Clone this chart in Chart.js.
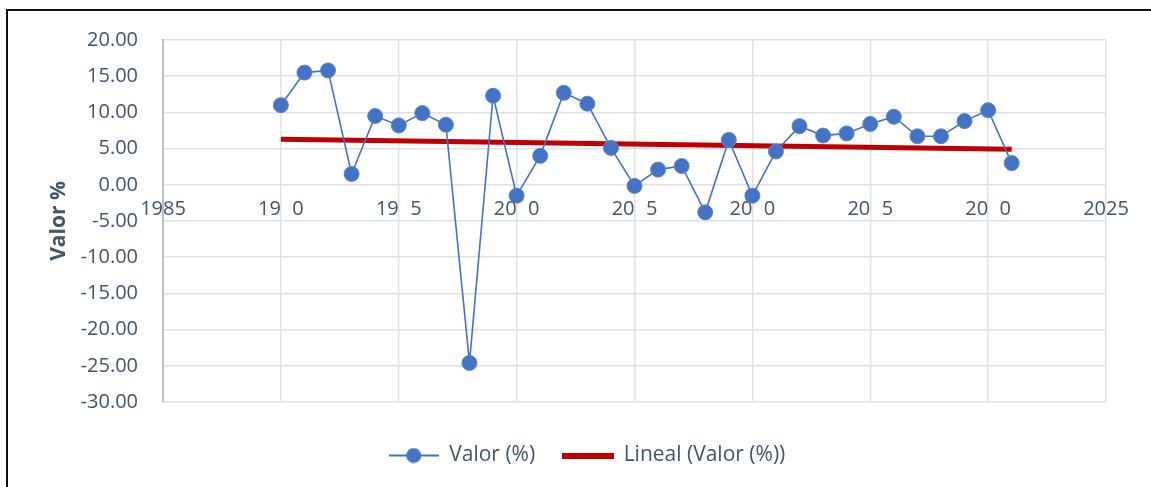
<!DOCTYPE html>
<html lang="es">
<head>
  <meta charset="UTF-8" />
  <title>Valor %</title>
  <style>
    * {
      margin: 0;
      padding: 0;
      box-sizing: border-box;
    }

    body {
      background: white;
      width: 1151px;
      height: 487px;
      overflow: hidden;
      position: relative;
    }

    .marco {
      position: absolute;
      left: 6px;
      top: 9px;
      width: 1400px;
      height: 800px;
      border-left: 2px solid #111;
      border-top: 2px solid #111;
      pointer-events: none;
    }

    canvas {
      position: absolute;
      left: 0;
      top: 0;
    }
  </style>
</head>
<body>
  <canvas id="grafico" width="1151" height="487"></canvas>
  <div class="marco"></div>

  <script src="https://cdn.jsdelivr.net/npm/chart.js"></script>
  <script>
    // datos
    const anios = [1990, 1991, 1992, 1993, 1994, 1995, 1996, 1997, 1998, 1999,
                   2000, 2001, 2002, 2003, 2004, 2005, 2006, 2007, 2008, 2009,
                   2010, 2011, 2012, 2013, 2014, 2015, 2016, 2017, 2018, 2019,
                   2020, 2021];
    const valores = [11.0, 15.5, 15.8, 1.5, 9.5, 8.2, 9.9, 8.3, -24.6, 12.3,
                     -1.5, 4.0, 12.7, 11.2, 5.1, -0.15, 2.1, 2.6, -3.8, 6.2,
                     -1.5, 4.6, 8.1, 6.8, 7.1, 8.4, 9.4, 6.7, 6.7, 8.8,
                     10.3, 3.0];
    // linea de tendencia (extremos)
    const aniosTendencia = [1990, 2021];
    const valoresTendencia = [6.3, 4.9];
    // etiquetas del eje x tal como aparecen
    const etiquetasX = ['1985', '19\u20070', '19\u20075', '20\u20070', '20\u20075',
                        '20\u20070', '20\u20075', '20\u20070', '2025'];

    const AZUL = '#4472c4';
    const ROJO = '#c00000';
    const TEXTO = '#44546a';
    const REJILLA = '#dde1e8';
    const fuente = "'Open Sans', 'Liberation Sans', sans-serif";

    // simbolos de la leyenda
    function simboloValor() {
      const c = document.createElement('canvas');
      c.width = 50; c.height = 16;
      const g = c.getContext('2d');
      g.strokeStyle = AZUL;
      g.lineWidth = 2;
      g.beginPath(); g.moveTo(0, 8); g.lineTo(50, 8); g.stroke();
      g.fillStyle = AZUL;
      g.beginPath(); g.arc(25, 8, 7.5, 0, Math.PI * 2); g.fill();
      return c;
    }

    function simboloTendencia() {
      const c = document.createElement('canvas');
      c.width = 52; c.height = 6;
      const g = c.getContext('2d');
      g.fillStyle = ROJO;
      g.fillRect(0, 0, 52, 6);
      return c;
    }

    const iconos = [simboloValor(), simboloTendencia()];

    const ctx = document.getElementById('grafico').getContext('2d');
    new Chart(ctx, {
      type: 'line',
      data: {
        datasets: [{
          label: 'Valor (%)',
          data: anios.map((a, i) => ({ x: a, y: valores[i] })),
          borderColor: AZUL,
          backgroundColor: AZUL,
          borderWidth: 1.6,
          pointRadius: 7.5,
          pointBorderColor: '#5a86d0',
          pointBorderWidth: 1,
          pointBackgroundColor: AZUL,
          tension: 0
        }, {
          label: 'Lineal (Valor (%))',
          data: aniosTendencia.map((a, i) => ({ x: a, y: valoresTendencia[i] })),
          borderColor: ROJO,
          backgroundColor: ROJO,
          borderWidth: 5,
          pointRadius: 0,
          tension: 0
        }]
      },
      options: {
        responsive: false,
        animation: false,
        layout: {
          padding: { left: 68, right: 45, top: 40, bottom: 11 }
        },
        plugins: {
          tooltip: { enabled: false },
          legend: {
            position: 'bottom',
            title: {
              display: true,
              text: ' ',
              font: { family: fuente, size: 10 },
              padding: { top: 0, bottom: 3 }
            },
            labels: {
              usePointStyle: true,
              pointStyleWidth: 50,
              padding: 28,
              color: TEXTO,
              font: { family: fuente, size: 21 },
              generateLabels(chart) {
                return chart.data.datasets.map((d, i) => ({
                  text: d.label,
                  pointStyle: iconos[i],
                  fontColor: TEXTO,
                  lineWidth: 0,
                  strokeStyle: 'transparent',
                  fillStyle: 'transparent',
                  datasetIndex: i
                }));
              }
            }
          }
        },
        scales: {
          x: {
            type: 'linear',
            position: { y: 0 },
            min: 1985,
            max: 2025,
            grid: { color: REJILLA, lineWidth: 1.5, drawTicks: false },
            border: { display: false },
            ticks: {
              stepSize: 5,
              padding: 12,
              maxRotation: 0,
              autoSkip: false,
              color: TEXTO,
              font: { family: fuente, size: 20 },
              callback: (v) => etiquetasX[Math.round((v - 1985) / 5)]
            }
          },
          y: {
            min: -30,
            max: 20,
            grid: { color: REJILLA, lineWidth: 1.5, drawTicks: false },
            border: { color: '#b8c0cc', width: 2 },
            ticks: {
              stepSize: 5,
              padding: 25,
              color: TEXTO,
              font: { family: fuente, size: 20 },
              callback: (v) => v.toFixed(2)
            },
            title: {
              display: true,
              text: 'Valor %',
              color: TEXTO,
              font: { family: fuente, size: 21, weight: 'bold' },
              padding: { top: -22, bottom: 0 }
            },
            afterFit(scale) {
              scale.width = 95;
            }
          }
        }
      }
    });
  </script>
</body>
</html>
